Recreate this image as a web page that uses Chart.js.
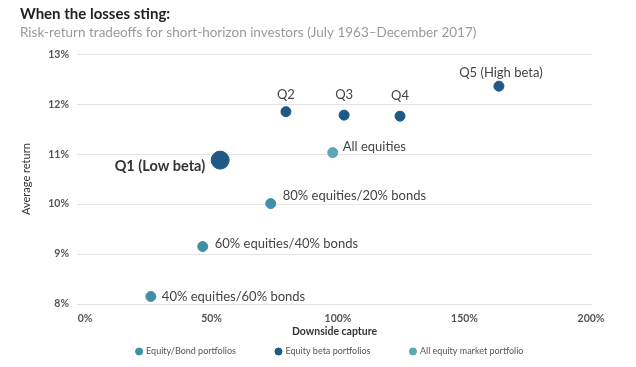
<!DOCTYPE html>
<html>
<head>
<meta charset="utf-8">
<script src="https://cdn.jsdelivr.net/npm/chart.js@4/dist/chart.umd.min.js"></script>
<style>
  html, body { margin: 0; padding: 0; background: #ffffff; }
  #wrap { width: 636px; height: 367px; }
</style>
</head>
<body>
<div id="wrap"><canvas id="c" width="636" height="367"></canvas></div>
<script>
// ---- data ----
const bondNames   = ['40% equities/60% bonds', '60% equities/40% bonds', '80% equities/20% bonds'];
const bondCapture = [26, 46.5, 73.4];
const bondReturn  = [8.15, 9.15, 10.01];

const betaNames   = ['Q1 (Low beta)', 'Q2', 'Q3', 'Q4', 'Q5 (High beta)'];
const betaCapture = [53.4, 79.4, 102.4, 124.5, 163.6];
const betaReturn  = [10.88, 11.85, 11.78, 11.76, 12.36];

const mktNames    = ['All equities'];
const mktCapture  = [97.9];
const mktReturn   = [11.03];

const xTickValues = [0, 50, 100, 150, 200];
const yTickValues = [8, 9, 10, 11, 12, 13];
const seriesNames = ['Equity/Bond portfolios', 'Equity beta portfolios', 'All equity market portfolio'];

// ---- styles ----
const FONT = 'Lato, "Open Sans", sans-serif';
const cBond = '#3d90a6';
const cBeta = '#1d5a86';
const cMkt  = '#5aa8b6';

const labelStyle = {
  'Q1 (Low beta)':          { dx: -15, dy: 6,   align: 'right',  weight: 'bold', size: 14.5, color: '#333' },
  'Q2':                     { dx: 0,   dy: -17, align: 'center' },
  'Q3':                     { dx: 0,   dy: -20, align: 'center' },
  'Q4':                     { dx: 0,   dy: -20, align: 'center' },
  'Q5 (High beta)':         { dx: 2,   dy: -13, align: 'center' },
  'All equities':           { dx: 10,  dy: -6,  align: 'left' },
  '80% equities/20% bonds': { dx: 12,  dy: -8,  align: 'left' },
  '60% equities/40% bonds': { dx: 12,  dy: -3,  align: 'left' },
  '40% equities/60% bonds': { dx: 11,  dy: 0,   align: 'left' }
};

const toPts = (xs, ys) => xs.map((x, i) => ({ x: x, y: ys[i] }));

const pointLabels = {
  id: 'pointLabels',
  afterDatasetsDraw(chart) {
    const ctx = chart.ctx;
    const nameLists = [bondNames, betaNames, mktNames];
    chart.data.datasets.forEach((ds, di) => {
      const meta = chart.getDatasetMeta(di);
      meta.data.forEach((pt, i) => {
        const name = nameLists[di][i];
        const st = labelStyle[name] || { dx: 8, dy: 0, align: 'left' };
        ctx.save();
        ctx.font = (st.weight || 'normal') + ' ' + (st.size || 13) + 'px ' + FONT;
        ctx.fillStyle = st.color || '#444';
        ctx.textAlign = st.align;
        ctx.textBaseline = 'middle';
        ctx.fillText(name, pt.x + st.dx, pt.y + st.dy);
        ctx.restore();
      });
    });
  }
};

// keep wide horizontal spacing between legend items while making the legend box compact
const LEGEND_PAD = 40;
const LEGEND_SHIFT_X = 24;
const compactLegend = {
  id: 'compactLegend',
  beforeLayout(chart) {
    const lg = chart.legend;
    if (!lg || lg._compact) return;
    lg._compact = true;
    const fit = lg.fit.bind(lg);
    lg.fit = function () { fit(); this.height = 24; };
    const draw = lg.draw.bind(lg);
    lg.draw = function () {
      const t = this.top, b = this.bottom, l = this.left, r = this.right;
      this.top = t - (LEGEND_PAD - 8);
      this.bottom = chart.height;
      this.left = l + LEGEND_SHIFT_X;
      this.right = r + LEGEND_SHIFT_X;
      draw();
      this.top = t; this.bottom = b; this.left = l; this.right = r;
    };
  }
};

new Chart(document.getElementById('c'), {
  type: 'scatter',
  data: {
    datasets: [
      { label: seriesNames[0], data: toPts(bondCapture, bondReturn),
        backgroundColor: cBond, borderColor: cBond, pointRadius: 5, pointHoverRadius: 5 },
      { label: seriesNames[1], data: toPts(betaCapture, betaReturn),
        backgroundColor: cBeta, borderColor: cBeta, pointRadius: [9, 5, 5, 5, 5], pointHoverRadius: [9, 5, 5, 5, 5] },
      { label: seriesNames[2], data: toPts(mktCapture, mktReturn),
        backgroundColor: cMkt, borderColor: cMkt, pointRadius: 5, pointHoverRadius: 5 }
    ]
  },
  options: {
    responsive: false,
    animation: false,
    events: [],
    layout: { padding: { left: 20, right: 44, top: 4, bottom: 4 } },
    plugins: {
      tooltip: { enabled: false },
      title: {
        display: true, text: 'When the losses sting:', align: 'start',
        color: '#222', font: { family: FONT, size: 15, weight: 'bold' },
        padding: { top: 1, bottom: 2 }
      },
      subtitle: {
        display: true,
        text: 'Risk-return tradeoffs for short-horizon investors (July 1963–December 2017)',
        align: 'start', color: '#9a9a9a', font: { family: FONT, size: 13.5 },
        padding: { top: 0, bottom: 13 }
      },
      legend: {
        position: 'bottom',
        labels: {
          usePointStyle: true, pointStyle: 'circle', boxWidth: 5, boxHeight: 5,
          color: '#555', font: { family: FONT, size: 9 }, padding: LEGEND_PAD
        }
      }
    },
    scales: {
      x: {
        type: 'linear', min: -3.2, max: 200.4,
        afterBuildTicks: s => { s.ticks = xTickValues.map(v => ({ value: v })); },
        afterFit: s => { s.height = 35; },
        grid: { display: false, drawTicks: false },
        border: { display: false },
        ticks: { color: '#555', font: { family: FONT, size: 10.5, weight: 'bold' }, padding: 8,
                 callback: v => v + '%', autoSkip: false, maxRotation: 0 },
        title: { display: true, text: 'Downside capture', color: '#333',
                 font: { family: FONT, size: 10.5, weight: 'bold' }, padding: { top: 1, bottom: 1 } }
      },
      y: {
        type: 'linear', min: 8, max: 13,
        afterBuildTicks: s => { s.ticks = yTickValues.map(v => ({ value: v })); },
        afterFit: s => { s.width = 57; },
        grid: { color: '#e4e4e4', lineWidth: 1, drawTicks: false },
        border: { display: false },
        ticks: { color: '#555', font: { family: FONT, size: 10.5, weight: 'bold' }, padding: 8,
                 callback: v => v + '%' },
        title: { display: true, text: 'Average return', color: '#333',
                 font: { family: FONT, size: 11 }, padding: { top: 0, bottom: 0 } }
      }
    }
  },
  plugins: [pointLabels, compactLegend]
});
</script>
</body>
</html>
